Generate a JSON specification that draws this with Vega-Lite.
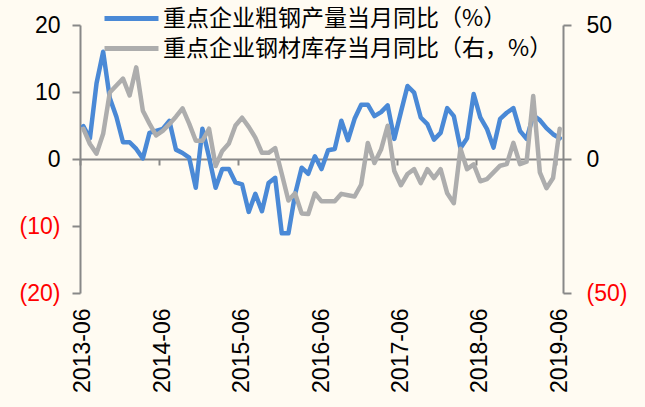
{
  "$schema": "https://vega.github.io/schema/vega-lite/v6.json",
  "width": 483,
  "height": 268,
  "autosize": {"type": "none"},
  "padding": {"left": 80, "top": 25, "right": 82, "bottom": 114},
  "background": "#FFFBF2",
  "config": {
    "view": {"stroke": null},
    "legend": {
      "orient": "none",
      "legendX": 34,
      "legendY": -24,
      "symbolType": "M-1.8,0H1.8",
      "symbolSize": 900,
      "symbolStrokeWidth": 5,
      "labelFontSize": 23,
      "labelFont": "Noto Sans CJK SC",
      "labelColor": "black",
      "labelLimit": 0,
      "rowPadding": 0,
      "labelOffset": 14,
      "title": null
    }
  },
  "data": {
    "values": [
      {"m": "2013-06", "a": 4.9, "b": 11.3},
      {"m": "2013-07", "a": 3.1, "b": 5.6},
      {"m": "2013-08", "a": 11.3, "b": 2.0},
      {"m": "2013-09", "a": 16.0, "b": 9.4},
      {"m": "2013-10", "a": 9.1, "b": 24.8},
      {"m": "2013-11", "a": 6.3, "b": 27.4},
      {"m": "2013-12", "a": 2.5, "b": 30.0},
      {"m": "2014-01", "a": 2.5, "b": 23.7},
      {"m": "2014-02", "a": 1.5, "b": 34.2},
      {"m": "2014-03", "a": 0.1, "b": 18.0},
      {"m": "2014-04", "a": 3.9, "b": 13.2},
      {"m": "2014-05", "a": 4.2, "b": 8.8},
      {"m": "2014-06", "a": 4.5, "b": 10.5},
      {"m": "2014-07", "a": 5.7, "b": 13.0},
      {"m": "2014-08", "a": 1.4, "b": 15.8},
      {"m": "2014-09", "a": 0.9, "b": 18.9},
      {"m": "2014-10", "a": 0.2, "b": 13.2},
      {"m": "2014-11", "a": -4.3, "b": 6.8},
      {"m": "2014-12", "a": 4.5, "b": 6.8},
      {"m": "2015-01", "a": 0.3, "b": 11.3},
      {"m": "2015-02", "a": -4.3, "b": -2.6},
      {"m": "2015-03", "a": -1.5, "b": 3.0},
      {"m": "2015-04", "a": -1.5, "b": 5.8},
      {"m": "2015-05", "a": -3.5, "b": 12.5},
      {"m": "2015-06", "a": -3.8, "b": 15.4},
      {"m": "2015-07", "a": -7.9, "b": 12.0},
      {"m": "2015-08", "a": -5.2, "b": 8.0},
      {"m": "2015-09", "a": -7.8, "b": 2.3},
      {"m": "2015-10", "a": -3.6, "b": 2.3},
      {"m": "2015-11", "a": -2.8, "b": 4.1},
      {"m": "2015-12", "a": -11.1, "b": -5.6},
      {"m": "2016-01", "a": -11.1, "b": -15.5},
      {"m": "2016-02", "a": -5.3, "b": -12.8},
      {"m": "2016-03", "a": -1.3, "b": -20.3},
      {"m": "2016-04", "a": -2.2, "b": -20.5},
      {"m": "2016-05", "a": 0.4, "b": -12.8},
      {"m": "2016-06", "a": -1.5, "b": -15.8},
      {"m": "2016-07", "a": 1.3, "b": -15.8},
      {"m": "2016-08", "a": 1.5, "b": -15.8},
      {"m": "2016-09", "a": 5.7, "b": -13.0},
      {"m": "2016-10", "a": 2.8, "b": -13.5},
      {"m": "2016-11", "a": 6.0, "b": -14.0},
      {"m": "2016-12", "a": 8.1, "b": -9.5},
      {"m": "2017-01", "a": 8.1, "b": 6.0},
      {"m": "2017-02", "a": 6.4, "b": -1.5},
      {"m": "2017-03", "a": 7.0, "b": 3.5},
      {"m": "2017-04", "a": 8.0, "b": 12.4},
      {"m": "2017-05", "a": 3.0, "b": -4.5},
      {"m": "2017-06", "a": 7.0, "b": -9.8},
      {"m": "2017-07", "a": 10.9, "b": -5.6},
      {"m": "2017-08", "a": 9.9, "b": -3.8},
      {"m": "2017-09", "a": 6.2, "b": -9.0},
      {"m": "2017-10", "a": 5.2, "b": -3.8},
      {"m": "2017-11", "a": 2.9, "b": -7.1},
      {"m": "2017-12", "a": 3.9, "b": -3.8},
      {"m": "2018-01", "a": 7.6, "b": -12.8},
      {"m": "2018-02", "a": 6.4, "b": -16.5},
      {"m": "2018-03", "a": 1.6, "b": 3.8},
      {"m": "2018-04", "a": 3.1, "b": -3.8},
      {"m": "2018-05", "a": 9.7, "b": -2.0},
      {"m": "2018-06", "a": 6.2, "b": -8.3},
      {"m": "2018-07", "a": 4.5, "b": -7.5},
      {"m": "2018-08", "a": 1.7, "b": -5.0},
      {"m": "2018-09", "a": 6.0, "b": -2.5},
      {"m": "2018-10", "a": 6.9, "b": -1.9},
      {"m": "2018-11", "a": 7.6, "b": 6.0},
      {"m": "2018-12", "a": 4.2, "b": -1.9},
      {"m": "2019-01", "a": 3.0, "b": -1.0},
      {"m": "2019-02", "a": 6.5, "b": 23.5},
      {"m": "2019-03", "a": 5.8, "b": -5.0},
      {"m": "2019-04", "a": 4.6, "b": -10.9},
      {"m": "2019-05", "a": 3.7, "b": -7.1},
      {"m": "2019-06", "a": 3.1, "b": 11.3}
    ]
  },
  "layer": [
    {
      "mark": {"type": "line", "strokeWidth": 4.5, "strokeJoin": "round", "strokeCap": "round"},
      "encoding": {
        "x": {
          "field": "m", "type": "ordinal", "bandPosition": 0.5,
          "scale": {"type": "band", "paddingInner": 0, "paddingOuter": 0},
          "axis": {
            "orient": "bottom",
            "values": ["2013-06", "2014-06", "2015-06", "2016-06", "2017-06", "2018-06", "2019-06"],
            "bandPosition": 0.5,
            "domain": false, "ticks": false, "grid": false,
            "labelAngle": -90, "labelPadding": 15,
            "labelFont": "Liberation Sans", "labelFontSize": 23, "labelColor": "black",
            "title": null
          }
        },
        "y": {
          "field": "a", "type": "quantitative",
          "scale": {"domain": [-20, 20], "nice": false, "zero": false},
          "axis": {
            "orient": "left", "values": [-20, -10, 0, 10, 20],
            "grid": false, "domainColor": "#888888", "domainWidth": 2,
            "tickColor": "#888888", "tickWidth": 2, "tickSize": 8,
            "labelFont": "Liberation Sans", "labelFontSize": 23, "labelPadding": 12,
            "labelExpr": "datum.value < 0 ? '(' + abs(datum.value) + ')' : datum.label",
            "labelColor": {"condition": {"test": "datum.value < 0", "value": "#FF0000"}, "value": "black"},
            "title": null
          }
        },
        "color": {
          "datum": "重点企业粗钢产量当月同比（%）",
          "scale": {
            "domain": ["重点企业粗钢产量当月同比（%）", "重点企业钢材库存当月同比（右，%）"],
            "range": ["#4A89D6", "#ADADAD"]
          }
        }
      }
    },
    {
      "mark": {"type": "line", "strokeWidth": 4.5, "strokeJoin": "round", "strokeCap": "round"},
      "encoding": {
        "x": {
          "field": "m", "type": "ordinal", "bandPosition": 0.5,
          "axis": {
            "orient": "bottom", "offset": -134,
            "values": ["2013-06", "2014-06", "2015-06", "2016-06", "2017-06", "2018-06", "2019-06"],
            "bandPosition": 0,
            "labels": false, "grid": false,
            "domain": true, "domainColor": "#888888", "domainWidth": 2,
            "ticks": true, "tickColor": "#888888", "tickWidth": 2, "tickSize": 6,
            "title": null
          }
        },
        "y": {
          "field": "b", "type": "quantitative",
          "scale": {"domain": [-50, 50], "nice": false, "zero": false},
          "axis": {
            "orient": "right", "values": [-50, 0, 50],
            "grid": false, "domainColor": "#888888", "domainWidth": 2,
            "tickColor": "#888888", "tickWidth": 2, "tickSize": 8,
            "labelFont": "Liberation Sans", "labelFontSize": 23, "labelPadding": 15,
            "labelExpr": "datum.value < 0 ? '(' + abs(datum.value) + ')' : datum.label",
            "labelColor": {"condition": {"test": "datum.value < 0", "value": "#FF0000"}, "value": "black"},
            "title": null
          }
        },
        "color": {"datum": "重点企业钢材库存当月同比（右，%）"}
      }
    }
  ],
  "resolve": {
    "scale": {"y": "independent"},
    "axis": {"x": "independent", "y": "independent"}
  }
}
